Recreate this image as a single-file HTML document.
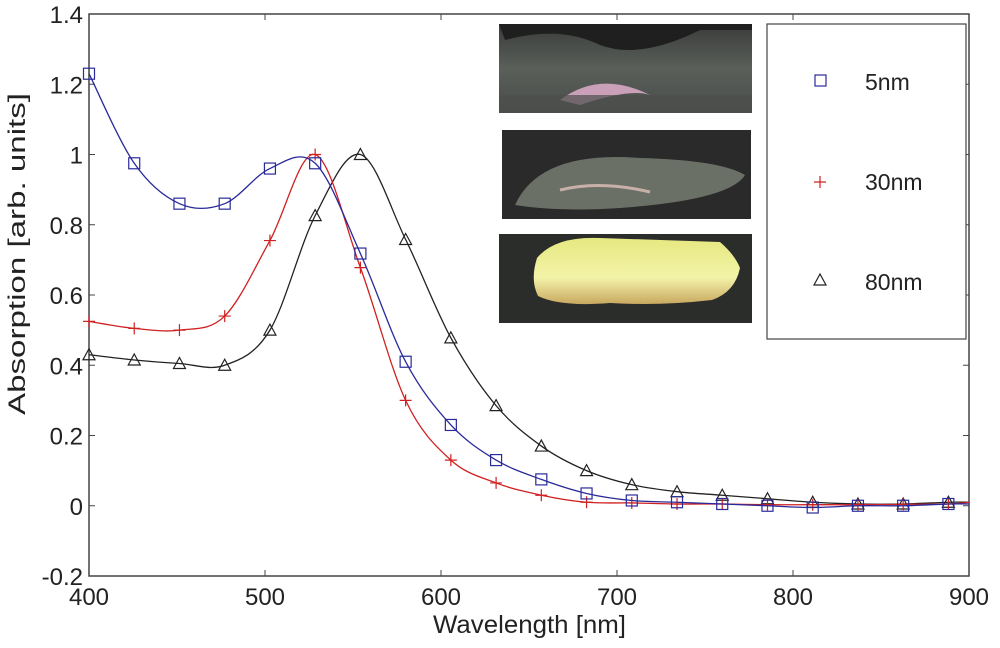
<!DOCTYPE html>
<html><head><meta charset="utf-8"><style>
body{margin:0;background:#fff;}
svg text{font-family:"Liberation Sans",Arial,sans-serif;fill:#222;}
</style></head><body>
<svg width="1000" height="643" viewBox="0 0 1000 643">
<defs>
<linearGradient id="g1" x1="0" y1="0" x2="0" y2="1"><stop offset="0" stop-color="#3a3c3a"/><stop offset="0.5" stop-color="#5a5f5a"/><stop offset="1" stop-color="#4a4d4a"/></linearGradient>
<linearGradient id="g3" x1="0" y1="0" x2="0" y2="1"><stop offset="0" stop-color="#e6e880"/><stop offset="0.6" stop-color="#f3f3a8"/><stop offset="1" stop-color="#c9a860"/></linearGradient>
</defs>
<g id="axes"></g>
<g id="plot"></g>
<g>
<g>
<rect x="499" y="24" width="253" height="89" fill="url(#g1)"/>
<path d="M505 40 Q560 25 600 45 Q640 60 700 30 L752 30 L752 24 L499 24Z" fill="#1e1f1e"/>
<path d="M560 100 Q600 70 650 95 Q630 88 580 105Z" fill="#c9a0b8"/>
<rect x="499" y="95" width="253" height="18" fill="#4c4f4c" opacity="0.7"/>
</g>
<g>
<rect x="502" y="130" width="249" height="89" fill="#2a2a2a"/>
<path d="M515 205 Q540 150 640 158 Q720 160 745 175 Q730 200 620 208 Q560 212 515 205Z" fill="#6a7066"/>
<path d="M560 190 Q600 180 650 192" stroke="#c8b0a8" stroke-width="3" fill="none"/>
</g>
<g>
<rect x="499" y="234" width="253" height="89" fill="#2b2d2b"/>
<path d="M537 258 Q555 236 600 238 L720 242 Q735 255 740 268 Q735 292 712 300 Q660 306 610 303 Q560 307 538 296 Q530 280 537 258Z" fill="url(#g3)"/>
</g>
</g>
<g>
<rect x="767" y="24" width="199" height="315" fill="#fff" stroke="#444" stroke-width="1.2"/>
<rect x="815" y="75" width="11" height="11" fill="none" stroke="#2a2a9a" stroke-width="1.2"/>
<text x="865" y="90" font-size="23">5nm</text>
<path d="M814 182 h12 M820 176 v12" stroke="#d02020" stroke-width="1.2"/>
<text x="865" y="190" font-size="23">30nm</text>
<path d="M814 285 L820 274 L826 285 Z" fill="none" stroke="#222" stroke-width="1.2"/>
<text x="865" y="290" font-size="23">80nm</text>
</g>
</svg>
<script>
const wavelengths=[400,425.7,451.4,477.1,502.8,528.5,554.2,579.9,605.6,631.3,657,682.7,708.4,734.1,759.8,785.5,811.2,836.9,862.6,888.3,900];
const blue5nm=[1.23,0.975,0.86,0.86,0.96,0.975,0.718,0.41,0.23,0.13,0.075,0.035,0.015,0.01,0.005,0,-0.005,0,0,0.005,0.005];
const red30nm=[0.525,0.505,0.5,0.54,0.755,1.0,0.678,0.3,0.13,0.065,0.03,0.01,0.008,0.005,0.005,0.003,0.003,0.003,0.004,0.005,0.01];
const black80nm=[0.43,0.415,0.405,0.40,0.5,0.826,1.0,0.758,0.478,0.285,0.17,0.10,0.06,0.04,0.03,0.02,0.01,0.005,0.005,0.01,0.01];
const xTicks=[400,500,600,700,800,900];
const yTicks=[-0.2,0,0.2,0.4,0.6,0.8,1,1.2,1.4];
const yTickLabels=["-0.2","0","0.2","0.4","0.6","0.8","1","1.2","1.4"];
const X0=89,X1=969,Y0=576,Y1=14;
const xs=v=>X0+(v-400)/500*(X1-X0);
const ys=v=>Y0-(v+0.2)/1.6*(Y0-Y1);
const NS="http://www.w3.org/2000/svg";
function mk(tag,attrs,parent){const e=document.createElementNS(NS,tag);for(const k in attrs)e.setAttribute(k,attrs[k]);parent.appendChild(e);return e;}
const axes=document.getElementById('axes'),plot=document.getElementById('plot');
const frame=mk('rect',{x:X0,y:Y1,width:X1-X0,height:Y0-Y1,fill:'none',stroke:'#444','stroke-width':1.5},axes);


xTicks.forEach(t=>{
  const x=xs(t);
  mk('line',{x1:x,y1:Y0,x2:x,y2:Y0-6,stroke:'#444'},axes);
  mk('line',{x1:x,y1:Y1,x2:x,y2:Y1+6,stroke:'#444'},axes);
  const tx=mk('text',{x:x,y:Y0+29,'font-size':24,'text-anchor':'middle'},axes);
  tx.textContent=t;
  
  
});
yTicks.forEach((t,i)=>{
  const y=ys(t);
  mk('line',{x1:X0,y1:y,x2:X0+6,y2:y,stroke:'#444'},axes);
  mk('line',{x1:X1,y1:y,x2:X1-6,y2:y,stroke:'#444'},axes);
  const tx=mk('text',{x:X0-6,y:y+9,'font-size':24,'text-anchor':'end'},axes);
  tx.textContent=yTickLabels[i];
  
  
});
const xt=mk('text',{x:433,y:633,'font-size':25,textLength:193,lengthAdjust:'spacingAndGlyphs'},axes);
xt.textContent='Wavelength [nm]';


const yt=mk('text',{x:-415,y:25,'font-size':24,textLength:322,lengthAdjust:'spacingAndGlyphs',transform:'rotate(-90)'},axes);
yt.textContent='Absorption [arb. units]';


function curve(vals){
  const p=wavelengths.map((w,i)=>[xs(w),ys(vals[i])]);
  let d='M'+p[0][0]+' '+p[0][1];
  for(let i=0;i<p.length-1;i++){
    const a=p[Math.max(0,i-1)],b=p[i],c=p[i+1],e=p[Math.min(p.length-1,i+2)];
    d+=` C${b[0]+(c[0]-a[0])/6} ${b[1]+(c[1]-a[1])/6} ${c[0]-(e[0]-b[0])/6} ${c[1]-(e[1]-b[1])/6} ${c[0]} ${c[1]}`;
  }
  return d;
}
function series(vals,color,kind,name){
  const g=mk('g',{},plot);
  
  
  const l=mk('path',{d:curve(vals),fill:'none',stroke:color,'stroke-width':1.3},g);
  
  
  for(let i=0;i<wavelengths.length-1;i++){
    const x=xs(wavelengths[i]),y=ys(vals[i]);let m;
    if(kind==='sq')m=mk('rect',{x:x-5.5,y:y-5.5,width:11,height:11,fill:'none',stroke:color,'stroke-width':1.2},g);
    else if(kind==='plus')m=mk('path',{d:`M${x-6} ${y}h12M${x} ${y-6}v12`,stroke:color,'stroke-width':1.2},g);
    else m=mk('path',{d:`M${x-6} ${y+5}L${x} ${y-6}L${x+6} ${y+5}Z`,fill:'none',stroke:color,'stroke-width':1.2},g);
    
    
  }
}
series(black80nm,'#222','tri','80nm');
series(red30nm,'#d02020','plus','30nm');
series(blue5nm,'#2a2a9a','sq','5nm');
</script>
</body></html>
